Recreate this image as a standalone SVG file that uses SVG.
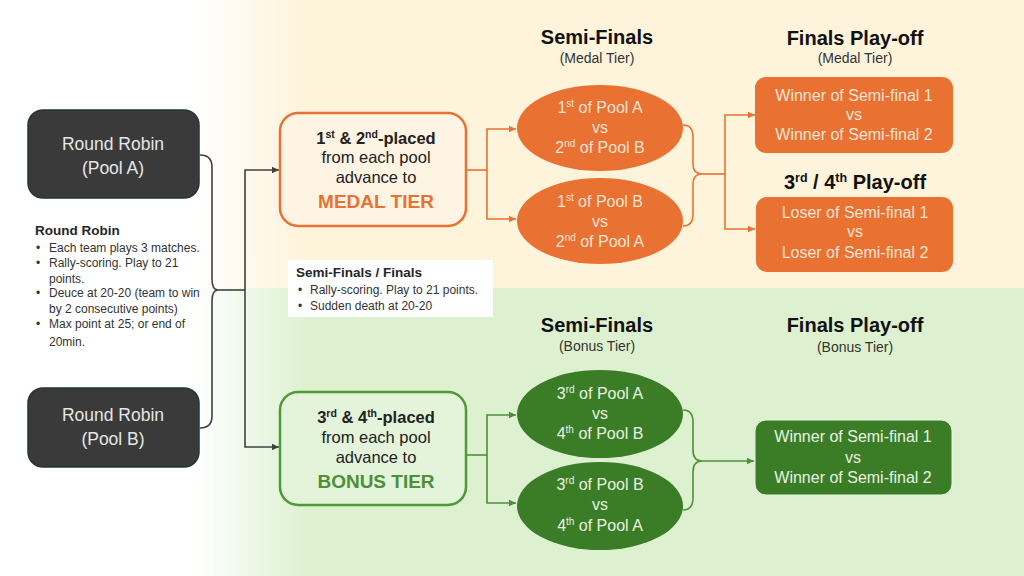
<svg xmlns="http://www.w3.org/2000/svg" width="1024" height="576" viewBox="0 0 1024 576">
<defs>
<linearGradient id="fade" x1="0" y1="0" x2="1" y2="0">
<stop offset="0" stop-color="#fff" stop-opacity="1"/>
<stop offset="0.19" stop-color="#fff" stop-opacity="1"/>
<stop offset="0.30" stop-color="#fff" stop-opacity="0"/>
</linearGradient>
<marker id="aDark" markerUnits="userSpaceOnUse" markerWidth="8" markerHeight="8" refX="7" refY="4" orient="auto"><path d="M0,0.8 L7,4 L0,7.2 z" fill="#404040"/></marker>
<marker id="aOrange" markerUnits="userSpaceOnUse" markerWidth="8" markerHeight="8" refX="7" refY="4" orient="auto"><path d="M0,0.8 L7,4 L0,7.2 z" fill="#E97132"/></marker>
<marker id="aGreen" markerUnits="userSpaceOnUse" markerWidth="8" markerHeight="8" refX="7" refY="4" orient="auto"><path d="M0,0.8 L7,4 L0,7.2 z" fill="#4E8F38"/></marker>
</defs>
<style>
text{font-family:"Liberation Sans",Arial,sans-serif}
.pool{fill:#3A3A3A;stroke:#25343B;stroke-width:1.5}
.poolT{fill:#E6E6E6;font-size:17.5px;text-anchor:middle}
.note{fill:#333;font-size:12px}
.noteB{fill:#262626;font-size:13.5px;font-weight:bold}
.hdr{fill:#111;font-size:20px;font-weight:bold;text-anchor:middle}
.sub{fill:#333;font-size:14px;text-anchor:middle}
.tierT{fill:#222;font-size:16.5px;text-anchor:middle}
.tierB{font-weight:bold}
.tierBig{font-size:19px;font-weight:bold;text-anchor:middle}
.medalBox{fill:#FEF4E3;stroke:#E97132;stroke-width:2.5}
.bonusBox{fill:#E3F4DA;stroke:#4E9A37;stroke-width:2.5}
.oFill{fill:#E97132}
.gFill{fill:#3B7D26}
.oT{fill:#FBE5D6;font-size:16px;text-anchor:middle}
.gT{fill:#E8F3E0;font-size:16px;text-anchor:middle}
.cDark{fill:none;stroke:#404040;stroke-width:1.6}
.cOrange{fill:none;stroke:#E97132;stroke-width:1.6}
.cGreen{fill:none;stroke:#4E8F38;stroke-width:1.6}
</style>
<!-- background -->
<rect x="0" y="0" width="1024" height="288" fill="#FEF3DB"/>
<rect x="0" y="288" width="1024" height="288" fill="#DDF1D1"/>
<rect x="0" y="0" width="1024" height="576" fill="url(#fade)"/>

<g id="connectors">
<path class="cDark" d="M200,155 Q212,155 212,167 L212,279 Q212,290 218,290 Q212,290 212,301 L212,416 Q212,428 200,428"/>
<path class="cDark" d="M218,290 L245,290"/>
<path class="cDark" d="M245,290 L245,170 L279,170" marker-end="url(#aDark)"/>
<path class="cDark" d="M245,290 L245,447 L279,447" marker-end="url(#aDark)"/>
<path class="cOrange" d="M466,170 L487,170"/>
<path class="cOrange" d="M487,170 L487,129 L516,129" marker-end="url(#aOrange)"/>
<path class="cOrange" d="M487,170 L487,219 L516,219" marker-end="url(#aOrange)"/>
<path class="cOrange" d="M683,125 Q693,125 693,137 L693,164 Q693,174 702,174 Q693,174 693,184 L693,214 Q693,226 683,226"/>
<path class="cOrange" d="M702,174 L725,174"/>
<path class="cOrange" d="M725,174 L725,115 L755,115" marker-end="url(#aOrange)"/>
<path class="cOrange" d="M725,174 L725,229 L755,229" marker-end="url(#aOrange)"/>
<path class="cGreen" d="M466,455 L487,455"/>
<path class="cGreen" d="M487,455 L487,415 L516,415" marker-end="url(#aGreen)"/>
<path class="cGreen" d="M487,455 L487,503 L516,503" marker-end="url(#aGreen)"/>
<path class="cGreen" d="M683,410 Q693,410 693,422 L693,450 Q693,461 702,461 Q693,461 693,472 L693,498 Q693,510 683,510"/>
<path class="cGreen" d="M702,461 L754,461" marker-end="url(#aGreen)"/>
</g>

<g id="poolA">
<rect class="pool" x="28" y="110" width="171" height="88" rx="15"/>
<text class="poolT" x="113" y="150">Round Robin</text>
<text class="poolT" x="113" y="174">(Pool A)</text>
</g>
<g id="poolB">
<rect class="pool" x="28" y="388" width="171" height="79" rx="15"/>
<text class="poolT" x="113" y="421">Round Robin</text>
<text class="poolT" x="113" y="445">(Pool B)</text>
</g>

<g id="rrNotes">
<text class="noteB" x="35" y="235">Round Robin</text>
<g class="note">
<text x="36" y="252">•</text><text x="49" y="252">Each team plays 3 matches.</text>
<text x="36" y="267">•</text><text x="49" y="267">Rally-scoring. Play to 21</text>
<text x="49" y="283">points.</text>
<text x="36" y="297">•</text><text x="49" y="297">Deuce at 20-20 (team to win</text>
<text x="49" y="313">by 2 consecutive points)</text>
<text x="36" y="328">•</text><text x="49" y="328">Max point at 25; or end of</text>
<text x="49" y="346">20min.</text>
</g>
</g>

<g id="sfNotes">
<rect x="288" y="260" width="205" height="57" fill="#FFFFFF"/>
<text class="noteB" x="296" y="277">Semi-Finals / Finals</text>
<g class="note">
<text x="298" y="294">•</text><text x="310" y="294">Rally-scoring. Play to 21 points.</text>
<text x="298" y="310">•</text><text x="310" y="310">Sudden death at 20-20</text>
</g>
</g>

<g id="medalTier">
<rect class="medalBox" x="280" y="113" width="186" height="113" rx="18"/>
<text class="tierT tierB" x="376" y="144">1<tspan font-size="10.5" dy="-6">st</tspan><tspan dy="6"> &amp; 2</tspan><tspan font-size="10.5" dy="-6">nd</tspan><tspan dy="6">-placed</tspan></text>
<text class="tierT" x="376" y="163">from each pool</text>
<text class="tierT" x="376" y="183">advance to</text>
<text class="tierBig" x="376" y="208" fill="#E97132">MEDAL TIER</text>
</g>

<g id="bonusTier">
<rect class="bonusBox" x="280" y="392" width="186" height="113" rx="18"/>
<text class="tierT tierB" x="376" y="423">3<tspan font-size="10.5" dy="-6">rd</tspan><tspan dy="6"> &amp; 4</tspan><tspan font-size="10.5" dy="-6">th</tspan><tspan dy="6">-placed</tspan></text>
<text class="tierT" x="376" y="443">from each pool</text>
<text class="tierT" x="376" y="463">advance to</text>
<text class="tierBig" x="376" y="488" fill="#4E8F38">BONUS TIER</text>
</g>

<g id="headers">
<text class="hdr" x="597" y="44">Semi-Finals</text>
<text class="sub" x="597" y="63">(Medal Tier)</text>
<text class="hdr" x="855" y="45">Finals Play-off</text>
<text class="sub" x="855" y="63">(Medal Tier)</text>
<text class="hdr" x="855" y="189">3<tspan font-size="12.5" dy="-7">rd</tspan><tspan dy="7"> / 4</tspan><tspan font-size="12.5" dy="-7">th</tspan><tspan dy="7"> Play-off</tspan></text>
<text class="hdr" x="597" y="332">Semi-Finals</text>
<text class="sub" x="597" y="351">(Bonus Tier)</text>
<text class="hdr" x="855" y="332">Finals Play-off</text>
<text class="sub" x="855" y="352">(Bonus Tier)</text>
</g>

<g id="medalSF1">
<ellipse class="oFill" cx="600" cy="128" rx="83" ry="43"/>
<text class="oT" x="600" y="113">1<tspan font-size="10" dy="-6">st</tspan><tspan dy="6"> of Pool A</tspan></text>
<text class="oT" x="600" y="133">vs</text>
<text class="oT" x="600" y="153">2<tspan font-size="10" dy="-6">nd</tspan><tspan dy="6"> of Pool B</tspan></text>
</g>
<g id="medalSF2">
<ellipse class="oFill" cx="600" cy="221" rx="83" ry="43"/>
<text class="oT" x="600" y="207">1<tspan font-size="10" dy="-6">st</tspan><tspan dy="6"> of Pool B</tspan></text>
<text class="oT" x="600" y="227">vs</text>
<text class="oT" x="600" y="247">2<tspan font-size="10" dy="-6">nd</tspan><tspan dy="6"> of Pool A</tspan></text>
</g>

<g id="medalFinal">
<rect class="oFill" x="755" y="77" width="198" height="76" rx="11"/>
<text class="oT" x="854" y="101">Winner of Semi-final 1</text>
<text class="oT" x="854" y="120">vs</text>
<text class="oT" x="854" y="140">Winner of Semi-final 2</text>
</g>
<g id="medalBronze">
<rect class="oFill" x="756" y="197" width="197" height="75" rx="11"/>
<text class="oT" x="855" y="218">Loser of Semi-final 1</text>
<text class="oT" x="855" y="237">vs</text>
<text class="oT" x="855" y="258">Loser of Semi-final 2</text>
</g>

<g id="bonusSF1">
<ellipse class="gFill" cx="600" cy="414" rx="83" ry="44"/>
<text class="gT" x="600" y="399">3<tspan font-size="10" dy="-6">rd</tspan><tspan dy="6"> of Pool A</tspan></text>
<text class="gT" x="600" y="419">vs</text>
<text class="gT" x="600" y="439">4<tspan font-size="10" dy="-6">th</tspan><tspan dy="6"> of Pool B</tspan></text>
</g>
<g id="bonusSF2">
<ellipse class="gFill" cx="600" cy="506" rx="83" ry="44"/>
<text class="gT" x="600" y="490">3<tspan font-size="10" dy="-6">rd</tspan><tspan dy="6"> of Pool B</tspan></text>
<text class="gT" x="600" y="510">vs</text>
<text class="gT" x="600" y="531">4<tspan font-size="10" dy="-6">th</tspan><tspan dy="6"> of Pool A</tspan></text>
</g>

<g id="bonusFinal">
<rect class="gFill" x="755" y="420" width="197" height="75" rx="11" stroke="#E8F3E0" stroke-width="1"/>
<text class="gT" x="853" y="442">Winner of Semi-final 1</text>
<text class="gT" x="853" y="463">vs</text>
<text class="gT" x="853" y="483">Winner of Semi-final 2</text>
</g>
</svg>
